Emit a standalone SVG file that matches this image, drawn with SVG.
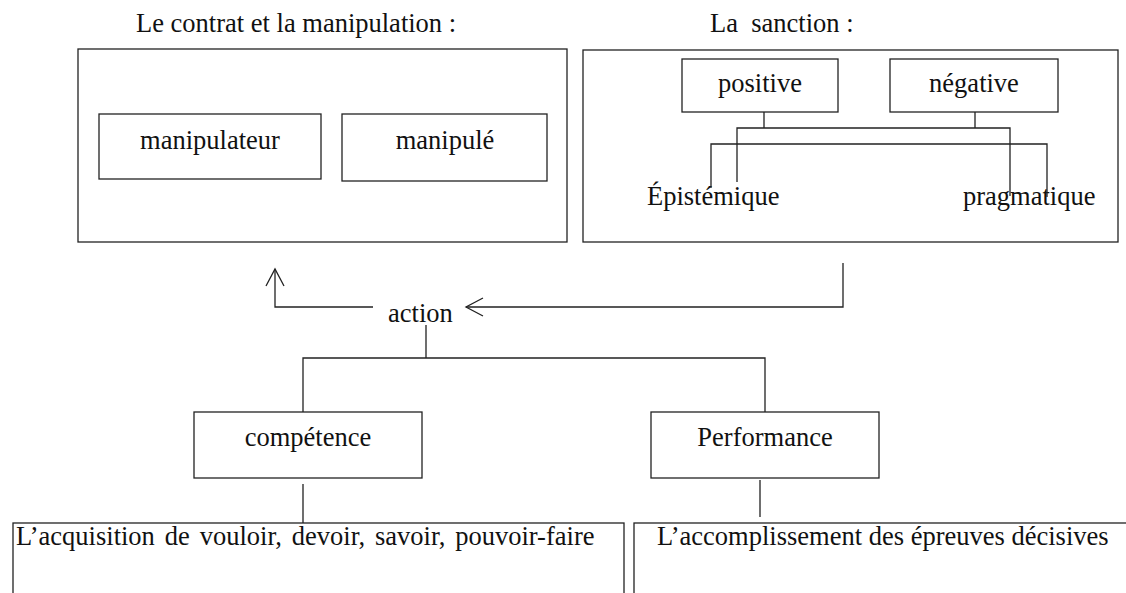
<svg xmlns="http://www.w3.org/2000/svg" width="1126" height="593" viewBox="0 0 1126 593">
<defs>
<style>
text{font-family:"Liberation Serif","Times New Roman",serif;font-size:26.5px;fill:#111}
.m{text-anchor:middle}
.b{fill:#fff;stroke:#222;stroke-width:1.3}
.c{fill:none;stroke:#222;stroke-width:1.3}
</style>
<marker id="open" markerUnits="userSpaceOnUse" markerWidth="24" markerHeight="24" refX="0" refY="0" orient="auto" overflow="visible">
<path d="M-17,-9 L0,0 L-17,9" fill="none" stroke="#222" stroke-width="1.3"/>
</marker>
</defs>
<rect width="1126" height="593" fill="#fff"/>
<text x="136" y="32">Le contrat et la manipulation :</text>
<text x="710" y="32" xml:space="preserve">La  sanction :</text>
<g id="contrat">
<rect class="b" x="78" y="49" width="489" height="193"/>
</g>
<g id="manipulateur">
<rect class="b" x="99" y="114" width="222" height="65"/>
<text class="m" x="210" y="149">manipulateur</text>
</g>
<g id="manipule">
<rect class="b" x="342" y="114" width="205" height="67"/>
<text class="m" x="445" y="149">manipulé</text>
</g>
<g id="sanction">
<rect class="b" x="583" y="50" width="535" height="192"/>
</g>
<g id="positive">
<rect class="b" x="682" y="59" width="156" height="53"/>
<text class="m" x="760" y="92">positive</text>
</g>
<g id="negative">
<rect class="b" x="890" y="59" width="168" height="53"/>
<text class="m" x="974" y="92">négative</text>
</g>
<g id="epistemique"><text x="647" y="205">Épistémique</text></g>
<g id="pragmatique"><text x="963" y="205">pragmatique</text></g>
<g id="action"><text x="388" y="322">action</text></g>
<g id="competence">
<rect class="b" x="194" y="412" width="228" height="66"/>
<text class="m" x="308" y="446">compétence</text>
</g>
<g id="performance">
<rect class="b" x="651" y="412" width="228" height="66"/>
<text class="m" x="765" y="446">Performance</text>
</g>
<g id="acquisition">
<rect class="b" x="13" y="523" width="611" height="100"/>
<text x="16" y="545" word-spacing="3.3">L’acquisition de vouloir, devoir, savoir, pouvoir-faire</text>
</g>
<g id="accomplissement">
<rect class="b" x="634" y="523" width="520" height="100"/>
<text x="657" y="545">L’accomplissement des épreuves décisives</text>
</g>
<g id="connectors">
<path class="c" d="M764,112 V128 M975,112 V128 M737,182 V128 H1010 V196"/>
<path class="c" d="M711,188 V144 H1047 V197"/>
<path class="c" d="M843,263 V307 H466" marker-end="url(#open)"/>
<path class="c" d="M373,307 H275 V269" marker-end="url(#open)"/>
<path class="c" d="M426,325 V358 M303,412 V358 H765 V412"/>
<path class="c" d="M303,484 V523 M760,480 V517"/>
</g>
</svg>
